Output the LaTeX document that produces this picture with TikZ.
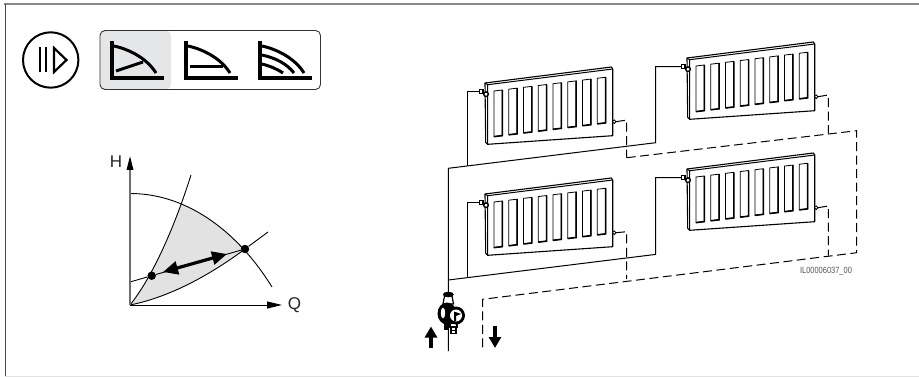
\documentclass[tikz,border=0pt]{standalone}
\usepackage{fontspec}
\setmainfont{Liberation Sans}
\usetikzlibrary{arrows.meta,positioning,calc}
\definecolor{frameGray}{RGB}{136,136,136}
\definecolor{frameDark}{RGB}{70,70,70}
\definecolor{lineGray}{RGB}{225,225,225}
\definecolor{iconGray}{RGB}{229,230,232}
\definecolor{areaGray}{RGB}{226,226,226}
\definecolor{axisGray}{RGB}{110,110,110}
\definecolor{textGray}{RGB}{85,85,85}
\tikzset{
  pipe/.style={line width=1pt, draw=black},
  returnpipe/.style={pipe, dash pattern=on 9pt off 4.5pt},
  iconline/.style={line width=3pt, draw=black},
  iconaxis/.style={line width=4pt, draw=black},
  flow/.style={-{Triangle[length=11pt,width=12pt]}, line width=4pt},
  curveline/.style={line width=0.9pt, draw=black},
  opdot/.style={circle, fill=black, inner sep=0pt, minimum size=8.5pt},
  axislabel/.style={font=\fontsize{17}{17}\selectfont, text=black!85, inner sep=0pt}
}
\newcommand{\maxcurve}{(130,193.5) .. controls (190,193.5) and (240,235) .. (272,287)}
\newcommand{\syscurve}{(130,305) .. controls (150,280) and (172,235) .. (191,175)}
\newcommand{\lowcurve}{(130,305) .. controls (170,297) and (210,275) .. (245,249)}
\newcommand{\radiator}[3]{%
\begin{scope}[shift={(#2,#3)}]
\draw[line width=1.1pt, fill=white, line join=round] (0,0) -- (126.3,-16) -- (127.7,-14) -- (127.7,52.7) -- (2.7,61.3) -- (0.7,59.3) -- cycle;
\draw[line width=1pt] (0,0) -- (2.7,1.7) -- (127.7,-14) (2.7,1.7) -- (2.7,61.3);
\foreach \i in {0,...,7} {
  \draw[line width=0.8pt, fill=white] ({9+14.76*\i},{8-1.82*\i}) -- ++(8.3,-1) -- ++(0,45.6) -- ++(-8.3,1) -- cycle;
  \draw[line width=1.6pt] ({9+14.76*\i+8.3},{8-1.82*\i-1}) -- ++(0,45.6) -- ++(-8.3,1);
}
\draw[line width=1.1pt, fill=white] (-5.5,6.5) rectangle (-2,10.5);
\draw[line width=1.5pt] (-2,9) -- (0,11);
\draw[line width=1.4pt, fill=white] (1,11.2) circle (2.3pt);
\draw[line width=0.8pt, fill=white] (129.2,38.7) circle (1.8pt);
\coordinate (#1in) at (-5.5,8.7);
\coordinate (#1out) at (131,38.7);
\end{scope}}

\begin{document}
\begin{tikzpicture}[x=1pt, y=-1pt]
\useasboundingbox (0,0) rectangle (919,377);
\fill[white] (0,0) rectangle (919,377);
% frame
\draw[frameGray, line width=2pt] (4,4.5) -- (919,4.5);
\draw[frameDark, line width=1pt] (5,4.5) -- (5,377);
\draw[lineGray, line width=1pt] (5,376) -- (919,376);
% mode symbol
\draw[line width=2pt] (50.7,60) circle (27.7pt);
\draw[line width=2.2pt] (40,47.5) -- (40,72.5) (45.8,47.5) -- (45.8,72.5);
\draw[line width=2.2pt, line join=miter] (54,48) -- (66.5,60) -- (54,72) -- cycle;
% curve selection
\fill[iconGray, rounded corners=5pt] (100,30.5) -- (171,30.5) -- (171,89.5) -- (100,89.5) -- cycle;
\draw[line width=0.9pt, rounded corners=5pt, draw=black!80] (100,30.5) rectangle (320.5,89.5);
\foreach \x in {112,186,260} {
  \draw[iconaxis] (\x,41) -- (\x,78) -- (\x+52,78);
}
\draw[iconline] (114,46) .. controls (132,50) and (148,60) .. (156,73);
\draw[iconline] (116,71) -- (143,62);
\draw[iconline] (188,46) .. controls (206,50) and (222,60) .. (230,73);
\draw[iconline] (190,66.5) -- (223,66.5);
\draw[iconline] (262,46) .. controls (280,50) and (296,60) .. (304,73);
\draw[iconline] (262,55) .. controls (276,58) and (287,64) .. (294,73);
\draw[iconline] (262,64) .. controls (270,66) and (277,69) .. (283,73);
% pump curve
\begin{scope}
\clip \syscurve -- (300,175) -- (300,305) -- cycle;
\clip \maxcurve -- (130,305) -- cycle;
\fill[areaGray] \lowcurve -- (245,150) -- (130,150) -- cycle;
\end{scope}
\draw[curveline] \maxcurve;
\draw[curveline] \syscurve;
\draw[curveline] \lowcurve;
\node[opdot] (lowpoint) at (151.7,275.7) {};
\node[opdot] (highpoint) at (245,249) {};
\coordinate (linestart) at (130,282);
\coordinate (lineend) at (268,232);
\draw[curveline] (linestart) -- (lowpoint) -- (highpoint) -- (lineend);
\draw[{Triangle[length=15pt,width=13pt]}-{Triangle[length=15pt,width=13pt]}, line width=3.2pt] (163,272) -- (227,254);
\coordinate (origin) at (130,305);
\node[axislabel] (hlabel) at (116,162) {H};
\node[axislabel] (qlabel) at (294.5,305) {Q};
\draw[axisGray, line width=1.6pt, -{Triangle[black,length=14pt,width=6.5pt]}] (origin) -- (130,156);
\draw[line width=1pt, -{Triangle[length=15pt,width=7pt]}] (origin) -- (282,305);
% radiators
\radiator{radA}{485}{83}
\radiator{radB}{687}{58}
\radiator{radC}{485}{194}
\radiator{radD}{687}{169}
% supply
\coordinate (mainA) at (448.3,168.3);
\coordinate (mainC) at (448.3,280);
\coordinate (teeA) at (467.6,166);
\coordinate (teeB) at (655.7,142.7);
\coordinate (teeC) at (467.6,277.6);
\coordinate (teeD) at (655.7,254.4);
\coordinate (inlet) at (448.3,351);
\draw[pipe] (inlet) -- (mainA) -- (teeB) |- (radBin);
\draw[pipe] (teeA) |- (radAin);
\draw[pipe] (mainC) -- (teeD) |- (radDin);
\draw[pipe] (teeC) |- (radCin);
% return
\coordinate (retA) at (626.7,157.7);
\coordinate (retB) at (828.3,133.3);
\coordinate (retC) at (626.7,279);
\coordinate (retD) at (828.3,255.7);
\coordinate (retcorner) at (856.7,130.7);
\coordinate (retlow) at (856.7,252.7);
\coordinate (retbend) at (482.7,299.3);
\coordinate (outlet) at (482.7,348);
\draw[returnpipe] (radAout) -- (626.7,120) -- (retA);
\draw[returnpipe] (radBout) -- (828.3,95) -- (retB);
\draw[returnpipe] (radCout) -- (626.7,231.7) -- (retC);
\draw[returnpipe] (radDout) -- (828.3,206) -- (retD);
\draw[returnpipe] (retA) -- (retcorner) -- (retlow) -- (retbend) -- (outlet);
% pump
\draw[line width=1.2pt, fill=white] (444.5,296) -- (452,296) -- (453.5,304) -- (443,304) -- cycle;
\fill (448.3,294.5) ellipse (5.5pt and 2.8pt);
\fill (447,313.5) ellipse (9.5pt and 11pt);
\fill[white] (443,313) ellipse (2.2pt and 5.5pt);
\fill (443.5,323) rectangle (448.5,330);
\draw[line width=1.1pt, fill=white] (450,323) rectangle (457,327);
\draw[line width=1.1pt, fill=white] (451,327) rectangle (456,333.5);
\draw[line width=0.9pt] (451,330) -- (456,330);
\fill (456,315.5) circle (9pt);
\fill[white] (456,315.5) circle (6pt);
\fill (454,311.5) -- (461,314) -- (456,316) -- (456,321) -- (454,321) -- cycle;
% flow direction
\coordinate (upfoot) at (431,348);
\coordinate (uptip) at (431,326.5);
\coordinate (downfoot) at (495,326);
\coordinate (downtip) at (495,348);
\draw[flow] (upfoot) -- (uptip);
\draw[flow] (downfoot) -- (downtip);
\node[text=textGray, font=\fontsize{9}{9}\selectfont, inner sep=0pt, xscale=0.83] (drawingno) at (826,271.7) {IL00006037\_00};
\end{tikzpicture}
\end{document}
